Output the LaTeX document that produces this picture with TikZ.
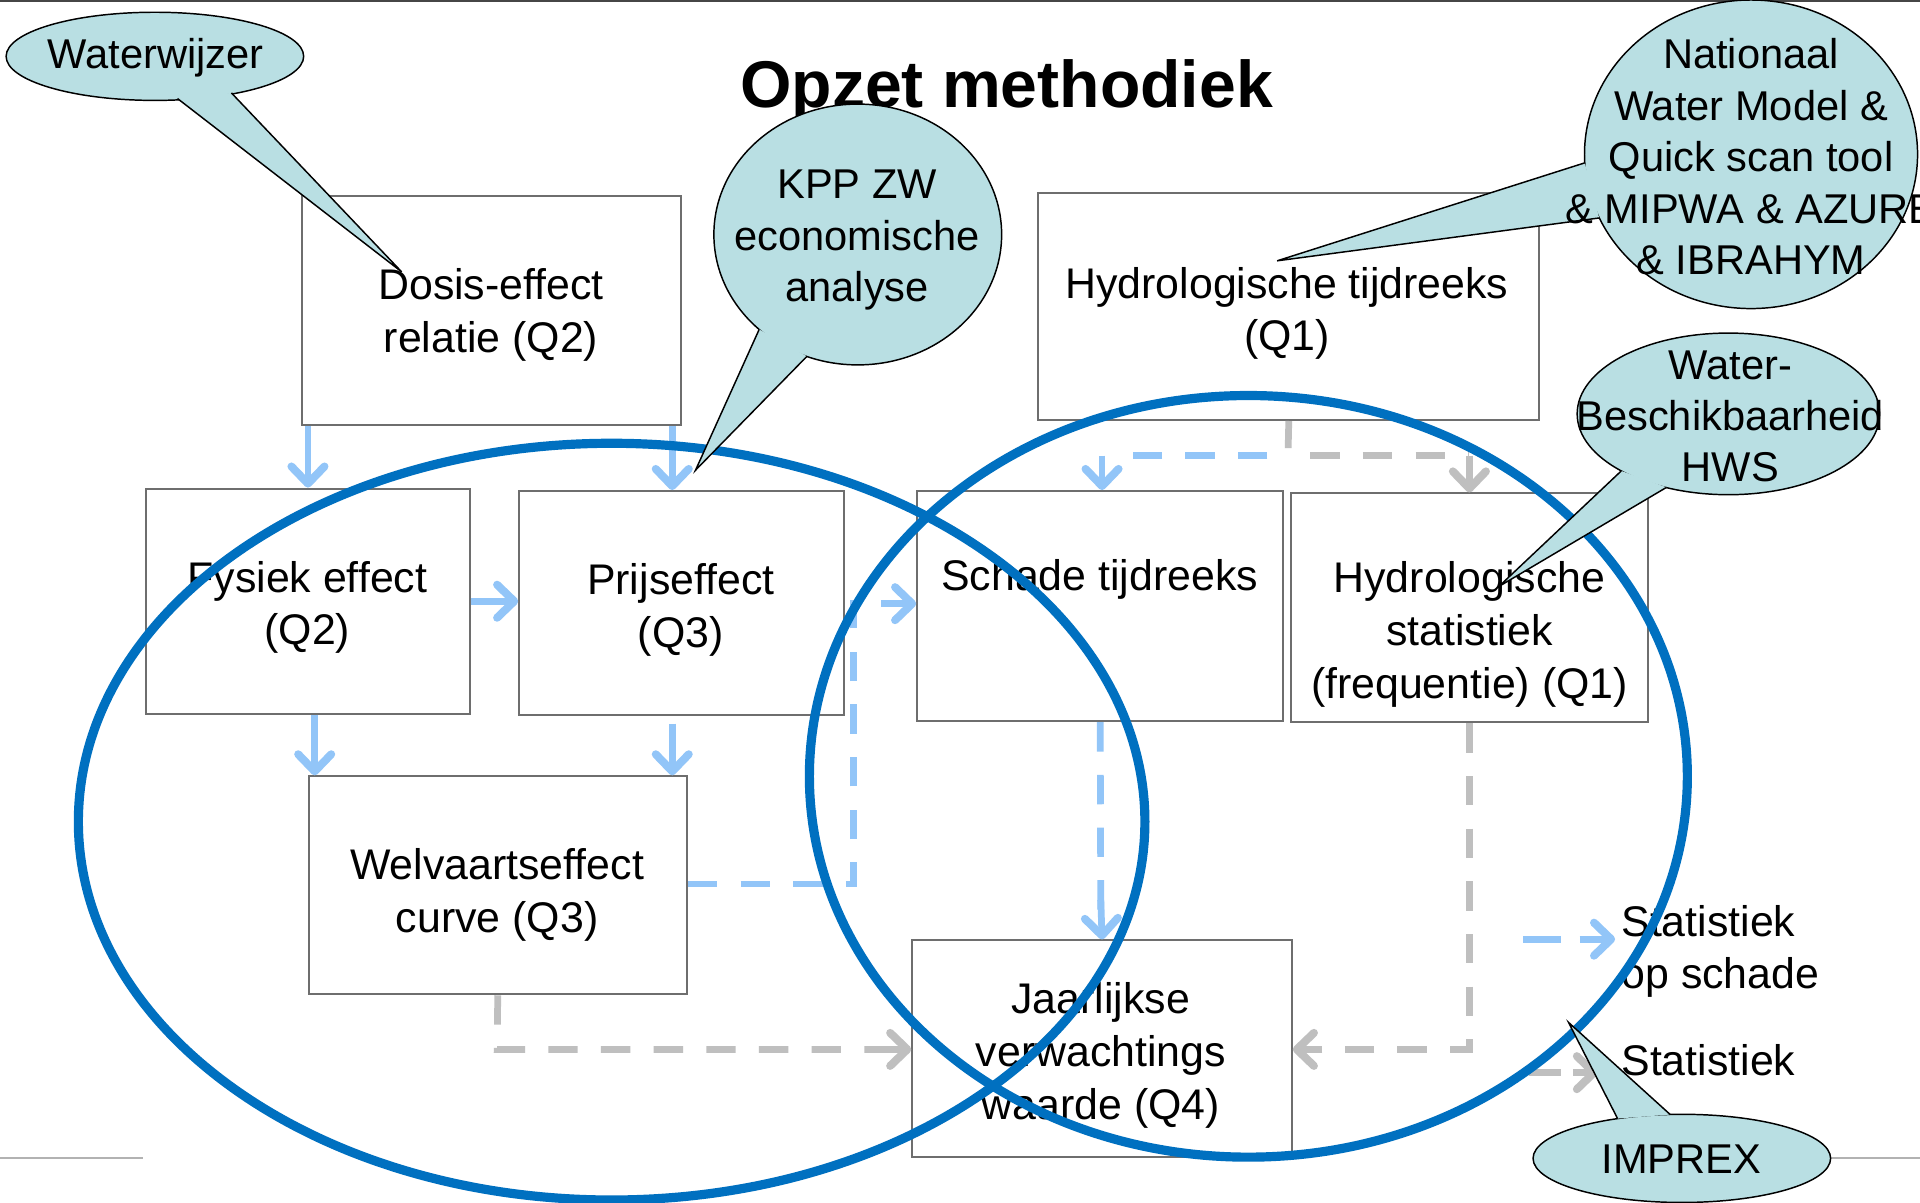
\documentclass[tikz,border=0pt]{standalone}
\usepackage{fontspec}
\setmainfont{Liberation Sans}
\usetikzlibrary{arrows.meta,calc}
\definecolor{boxgray}{RGB}{110,110,110}
\definecolor{lblue}{RGB}{146,197,248}
\definecolor{lgray}{RGB}{191,191,191}
\definecolor{dblue}{RGB}{0,112,192}
\definecolor{callfill}{RGB}{185,223,227}
\definecolor{framegray}{RGB}{70,70,70}
\begin{document}
\begin{tikzpicture}[x=1pt,y=-1pt,
  box/.style={draw=boxgray,line width=1.6pt,inner sep=0pt},
  txt/.style={font=\fontsize{35}{43}\selectfont,align=center,inner sep=0pt},
  ltxt/.style={font=\fontsize{35}{43}\selectfont,align=left,inner sep=0pt,anchor=west},
  ctxt/.style={font=\fontsize{34}{42}\selectfont,align=center,inner sep=0pt},
  tipb/.style={-{Straight Barb[length=14pt,width=27pt,round,line width=6.5pt]}},
  barrow/.style={lblue,line width=5.5pt,tipb},
  bdash/.style={lblue,line width=5.5pt,dash pattern=on 24pt off 19pt},
  gdash/.style={lgray,line width=5.5pt,dash pattern=on 24pt off 19pt},
  big/.style={dblue,line width=7.5pt},
  call/.style={fill=callfill,draw=black,line width=1.2pt},
  callside/.style={draw=black,line width=1.2pt,line join=miter},
]
\useasboundingbox (0,0) rectangle (1568,982);
\clip (0,0) rectangle (1568,982);
\fill[white] (0,0) rectangle (1568,982);

% slide decoration lines
\draw[framegray,line width=2pt] (0,1) -- (1568,1);
\draw[lgray!80!gray,line width=1.5pt] (0,946) -- (117,946);
\draw[lgray!80!gray,line width=1.5pt] (1495,946) -- (1568,946);

% title
\node[font=\fontsize{54}{60}\selectfont\bfseries,inner sep=0pt] (title) at (822,74) {Opzet methodiek};

% boxes
\node[box,minimum width=309pt,minimum height=187pt] (dosis) at (401.5,253.5) {};
\node[box,minimum width=409pt,minimum height=185pt] (hyd) at (1052.5,250.5) {};
\node[box,minimum width=265pt,minimum height=184pt] (fys) at (251.5,491) {};
\node[box,minimum width=265pt,minimum height=183pt] (prijs) at (556.5,492.5) {};
\node[box,minimum width=299pt,minimum height=188pt] (schade) at (898.5,495) {};
\node[box,minimum width=292pt,minimum height=187pt] (hstat) at (1200,496.5) {};
\node[box,minimum width=309pt,minimum height=178pt] (welv) at (406.5,723) {};
\node[box,minimum width=310pt,minimum height=177pt] (jaar) at (900,856.5) {};

% box texts
\node[txt] (dosist) at (401,257) {Dosis-effect\\relatie (Q2)};
\node[txt] (hydt) at (1051,256) {Hydrologische tijdreeks\\(Q1)};
\node[txt] (fyst) at (251,496) {Fysiek effect\\(Q2)};
\node[txt] (prijst) at (556,498) {Prijseffect\\(Q3)};
\node[txt] (schadet) at (898,473) {Schade tijdreeks};
\node[txt] (hstatt) at (1200,518) {Hydrologische\\statistiek\\(frequentie) (Q1)};
\node[txt] (welvt) at (406,731) {Welvaartseffect\\curve (Q3)};
\node[txt] (jaart) at (899,862) {Jaarlijkse\\verwachtings\\waarde (Q4)};

% legend texts
\node[ltxt] (leg1) at (1324,777) {Statistiek\\op schade};
\node[ltxt] (leg2) at (1324,866) {Statistiek};

% solid light blue arrows
\draw[barrow] (fys.north |- dosis.south) -- (fys.north);
\draw[barrow] (549,0 |- dosis.south) -- (549,0 |- prijs.north);
\draw[barrow] (fys.east) -- (fys.east -| prijs.west);
\draw[barrow] (257,0 |- fys.south) -- (257,0 |- welv.north);
\draw[barrow] (549,591) -- (549,0 |- welv.north);

% dashed connectors
\coordinate (wk) at (697,722);
\coordinate (wk2) at (697,493);
\draw[bdash] (welv.east |- wk) -- (wk) -- (wk2) -- (wk2 -| schade.west);
\draw[lblue,line width=5.5pt,tipb] (730,493) -- (wk2 -| schade.west);

\coordinate (hj) at (1052,372);
\draw[lgray,line width=5.5pt] (hyd.south) -- (1052,366);
\draw[bdash,dash phase=0pt] (1035,372) -- (918,372);
\draw[lblue,line width=5.5pt,tipb] (900,372) -- (900,0 |- schade.north);
\draw[gdash] (1070,372) -- (1200,372);
\draw[lgray,line width=5.5pt,tipb] (1200,372) -- (hstat.north);

\draw[bdash] (schade.south) -- (899,755);
\draw[lblue,line width=5.5pt,tipb] (899,735) -- (jaar.north);

\coordinate (hs) at (1200,857);
\draw[gdash] (hstat.south) -- (hs) -- (1075,857);
\draw[lgray,line width=5.5pt,tipb] (1080,857) -- (jaar.east |- hs);

\coordinate (wv) at (406,857);
\draw[gdash] (welv.south) -- (wv) -- (725,857);
\draw[lgray,line width=5.5pt,tipb] (720,857) -- (jaar.west |- wv);

% legend arrows
\coordinate (lb1) at (1244,767);
\coordinate (lb2) at (1319,767);
\draw[lblue,line width=5.5pt] (lb1) -- (1275,767);
\draw[lblue,line width=5.5pt,tipb] (1290,767) -- (lb2);
\coordinate (lg1) at (1249,876);
\coordinate (lg2) at (1305,876);
\draw[lgray,line width=5.5pt] (lg1) -- (1275,876);
\draw[lgray,line width=5.5pt,tipb] (1285,876) -- (lg2);

% big blue ellipses
\draw[big] (499.5,671) ellipse [x radius=435.5pt, y radius=309pt];
\draw[big] (1019.5,634) ellipse [x radius=358.5pt, y radius=311pt];

% callout: Waterwijzer
\coordinate (wwA) at (145,80.5);
\coordinate (wwT) at (328,222);
\coordinate (wwB) at (189,75.9);
\draw[call] (126.5,46) ellipse [x radius=121.5pt, y radius=36pt];
\fill[callfill] (wwA) -- (wwT) -- (wwB) -- cycle;
\draw[callside] (wwA) -- (wwT) -- (wwB);
\node[ctxt] (wwt) at (127,47) {Waterwijzer};

% callout: KPP ZW
\coordinate (kA) at (620,269);
\coordinate (kT) at (568,384);
\coordinate (kB) at (659,291);
\draw[call] (700.5,191.5) ellipse [x radius=117.5pt, y radius=106.5pt];
\fill[callfill] (kA) -- (kT) -- (kB) -- cycle;
\draw[callside] (kA) -- (kT) -- (kB);
\node[ctxt] (kt) at (700,196) {KPP ZW\\economische\\analyse};

% callout: Nationaal Water Model
\coordinate (nA) at (1294.2,133);
\coordinate (nT) at (1043,213);
\coordinate (nB) at (1306,178);
\draw[call] (1430,126) ellipse [x radius=136pt, y radius=126pt];
\fill[callfill] (nA) -- (nT) -- (nB) -- cycle;
\draw[callside] (nA) -- (nT) -- (nB);
\node[ctxt] (nt) at (1430,128) {Nationaal\\Water Model \&\\Quick scan tool\\\& MIPWA \& AZURE\\\& IBRAHYM};

% callout: Water-Beschikbaarheid HWS
\coordinate (hA) at (1324,384.6);
\coordinate (hT) at (1224,479);
\coordinate (hB) at (1361,398);
\draw[call] (1411.5,338) ellipse [x radius=123.5pt, y radius=66pt];
\fill[callfill] (hA) -- (hT) -- (hB) -- cycle;
\draw[callside] (hA) -- (hT) -- (hB);
\node[ctxt] (ht) at (1413,340) {Water-\\Beschikbaarheid\\HWS};

% callout: IMPREX
\coordinate (iA) at (1321,913.5);
\coordinate (iT) at (1281,835);
\coordinate (iB) at (1364,910.2);
\draw[call] (1373.5,946) ellipse [x radius=121.5pt, y radius=36pt];
\fill[callfill] (iA) -- (iT) -- (iB) -- cycle;
\draw[callside] (iA) -- (iT) -- (iB);
\node[ctxt] (it) at (1373,947) {IMPREX};
\end{tikzpicture}
\end{document}
